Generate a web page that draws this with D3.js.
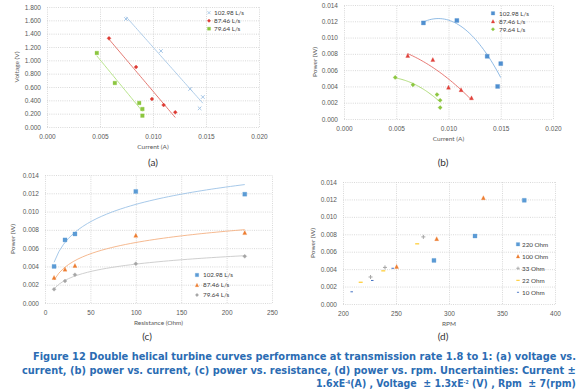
<!DOCTYPE html>
<html>
<head>
<meta charset="utf-8">
<script src="https://cdn.jsdelivr.net/npm/d3@7"></script>
<style>
  body { margin: 0; background: #fff; }
  svg { display: block; font-family: Lato, "Open Sans", sans-serif; }
  .grid line { stroke: #cfcfcf; stroke-width: 0.8; stroke-dasharray: 1,1.2; }
  .grid path { display: none; }
  .grid text { fill: #595959; font-size: 6.5px; }
  .title { fill: #595959; font-size: 6.5px; }
  .legend text { fill: #404040; font-size: 6.3px; }
  .sub { fill: #333; font-size: 10px; }
  .caption { fill: #2b6cb3; font-family: "Liberation Sans Narrow", "DejaVu Sans Condensed", sans-serif; font-weight: bold; font-size: 11.2px; }
</style>
</head>
<body>
<div id="chart"></div>
<script>
// flow rates (series of panels a, b, c)
var flowLabels = ["102.98 L/s", "87.46 L/s", "79.64 L/s"];

// (a) voltage vs current
var currentA = [
    [0.00745, 0.01075, 0.0135, 0.0147, 0.0144],
    [0.00585, 0.0084, 0.0099, 0.0110, 0.0121],
    [0.0047, 0.0064, 0.0087, 0.0090, 0.0090]
];
var voltageA = [
    [1.62, 1.14, 0.57, 0.45, 0.28],
    [1.33, 0.90, 0.42, 0.33, 0.22],
    [1.11, 0.66, 0.36, 0.27, 0.17]
];

// (b) power vs current
var currentB = [
    [0.0076, 0.0108, 0.0137, 0.0150, 0.0147],
    [0.0061, 0.0085, 0.0100, 0.0112, 0.0122],
    [0.0049, 0.0066, 0.0089, 0.0092, 0.0092]
];
var powerB = [
    [0.0118, 0.0121, 0.0077, 0.0068, 0.0040],
    [0.0078, 0.0073, 0.0039, 0.0036, 0.0026],
    [0.0051, 0.0042, 0.0030, 0.0023, 0.0014]
];

// (c) power vs resistance
var resistance = [10, 22, 33, 100, 220];
var powerC = [
    [0.0040, 0.0069, 0.00755, 0.0122, 0.0119],
    [0.0028, 0.0037, 0.0041, 0.0074, 0.0077],
    [0.0015, 0.0024, 0.0031, 0.0043, 0.0051]
];

// (d) power vs rpm, one series per load
var loadLabels = ["220 Ohm", "100 Ohm", "33 Ohm", "22 Ohm", "10 Ohm"];
var rpmD = [
    [371, 324.5, 285.8],
    [332.4, 288.4, 250.6],
    [275.8, 239.6, 226],
    [270, 238, 216.7],
    [246.9, 227.6, 208.2]
];
var powerD = [
    [0.0119, 0.0078, 0.0050],
    [0.0122, 0.0075, 0.0043],
    [0.0077, 0.0042, 0.0031],
    [0.0069, 0.0038, 0.0025],
    [0.0041, 0.0027, 0.0014]
];

var W = 580, H = 392;
var svg = d3.select("#chart").append("svg").attr("width", W).attr("height", H);
svg.append("rect").attr("width", W).attr("height", H).attr("fill", "#fff");

// marker paths centred on 0,0
function markerPath(shape, s) {
    var h = s / 2;
    switch (shape) {
        case "square": return "M" + -h + "," + -h + "h" + s + "v" + s + "h" + -s + "Z";
        case "diamond": return "M0," + -h + "L" + h + ",0L0," + h + "L" + -h + ",0Z";
        case "triangle": return "M0," + -h + "L" + h + "," + h + "L" + -h + "," + h + "Z";
        case "cross": return "M" + -h + "," + -h + "L" + h + "," + h + "M" + h + "," + -h + "L" + -h + "," + h;
        case "plus": return "M" + -h + ",0H" + h + "M0," + -h + "V" + h;
        case "dash": return "M" + -h + ",0H" + h;
        default: return "M0,0";
    }
}
function isStroked(shape) {
    return shape === "cross" || shape === "plus" || shape === "dash";
}

// least squares trend lines
function fitLinear(xs, ys) {
    var mx = d3.mean(xs), my = d3.mean(ys), sxy = 0, sxx = 0;
    xs.forEach(function (x, i) { sxy += (x - mx) * (ys[i] - my); sxx += (x - mx) * (x - mx); });
    var b = sxy / sxx, a = my - b * mx;
    return function (x) { return a + b * x; };
}
function fitLog(xs, ys) {
    var f = fitLinear(xs.map(Math.log), ys);
    return function (x) { return f(Math.log(x)); };
}
function fitPoly2(xs, ys) {
    var mx = d3.mean(xs);
    var u = xs.map(function (x) { return (x - mx) * 1000; });
    var S = [0, 0, 0, 0, 0], T = [0, 0, 0];
    u.forEach(function (v, i) {
        for (var k = 0; k < 5; k++) S[k] += Math.pow(v, k);
        for (var j = 0; j < 3; j++) T[j] += ys[i] * Math.pow(v, j);
    });
    var M = [[S[0], S[1], S[2], T[0]], [S[1], S[2], S[3], T[1]], [S[2], S[3], S[4], T[2]]];
    for (var c = 0; c < 3; c++) {
        for (var r = c + 1; r < 3; r++) {
            var f = M[r][c] / M[c][c];
            for (var k2 = c; k2 < 4; k2++) M[r][k2] -= f * M[c][k2];
        }
    }
    var coef = [0, 0, 0];
    for (var r2 = 2; r2 >= 0; r2--) {
        var s = M[r2][3];
        for (var k3 = r2 + 1; k3 < 3; k3++) s -= M[r2][k3] * coef[k3];
        coef[r2] = s / M[r2][r2];
    }
    return function (x) { var v = (x - mx) * 1000; return coef[0] + coef[1] * v + coef[2] * v * v; };
}

function drawPanel(cfg) {
    var g = svg.append("g");
    var x = d3.scaleLinear().domain(cfg.xDomain).range([cfg.left, cfg.right]);
    var y = d3.scaleLinear().domain(cfg.yDomain).range([cfg.bottom, cfg.top]);

    // ticks are the dotted mesh lines
    g.append("g").attr("class", "grid")
        .attr("transform", "translate(0," + cfg.bottom + ")")
        .call(d3.axisBottom(x).tickValues(cfg.xTicks).tickSize(-(cfg.bottom - cfg.top)).tickPadding(7).tickFormat(cfg.xFormat));
    g.append("g").attr("class", "grid")
        .attr("transform", "translate(" + cfg.left + ",0)")
        .call(d3.axisLeft(y).tickValues(cfg.yTicks).tickSize(-(cfg.right - cfg.left)).tickPadding(6).tickFormat(cfg.yFormat));

    g.append("text").attr("class", "title").attr("text-anchor", "middle")
        .attr("x", (cfg.left + cfg.right) / 2).attr("y", cfg.bottom + 22).text(cfg.xTitle);
    g.append("text").attr("class", "title").attr("text-anchor", "middle")
        .attr("transform", "translate(" + cfg.yTitleX + "," + (cfg.top + cfg.bottom) / 2 + ") rotate(-90)")
        .text(cfg.yTitle);

    cfg.series.forEach(function (s) {
        if (s.fit) {
            var f = s.fit(s.xs, s.ys);
            var ext = d3.extent(s.xs);
            var pts = d3.range(41).map(function (i) {
                var xv = ext[0] + (ext[1] - ext[0]) * i / 40;
                return [x(xv), y(f(xv))];
            });
            g.append("path").attr("d", d3.line()(pts))
                .attr("fill", "none").attr("stroke", s.lineColor).attr("stroke-width", 0.9);
        }
        g.append("g").selectAll("path").data(s.xs).enter().append("path")
            .attr("transform", function (d, i) { return "translate(" + x(d) + "," + y(s.ys[i]) + ")"; })
            .attr("d", markerPath(s.shape, s.size))
            .attr("fill", isStroked(s.shape) ? "none" : s.color)
            .attr("stroke", s.color)
            .attr("stroke-width", isStroked(s.shape) ? 1 : 0.3);
    });

    var lg = g.append("g").attr("class", "legend");
    cfg.series.forEach(function (s, i) {
        var ly = cfg.legend.y + i * cfg.legend.step;
        lg.append("path").attr("transform", "translate(" + cfg.legend.x + "," + ly + ")")
            .attr("d", markerPath(s.shape, s.size * 0.85))
            .attr("fill", isStroked(s.shape) ? "none" : s.color)
            .attr("stroke", s.color)
            .attr("stroke-width", isStroked(s.shape) ? 0.9 : 0.3);
        lg.append("text").attr("x", cfg.legend.x + cfg.legend.gap).attr("y", ly).attr("dy", "0.35em").text(s.label);
    });

    svg.append("text").attr("class", "sub").attr("text-anchor", "middle")
        .attr("x", cfg.subX).attr("y", cfg.subY).text(cfg.sub);
}

var f3 = d3.format(".3f");

drawPanel({
    left: 47, right: 259, top: 7, bottom: 127,
    xDomain: [0, 0.02], yDomain: [0, 1.8],
    xTicks: d3.range(0, 0.0201, 0.005), yTicks: d3.range(0, 1.801, 0.2),
    xFormat: f3, yFormat: f3,
    xTitle: "Current (A)", yTitle: "Voltage (V)", yTitleX: 19,
    sub: "(a)", subX: 153, subY: 166,
    legend: { x: 209, y: 12.7, step: 8, gap: 5 },
    series: [
        { label: flowLabels[0], xs: currentA[0], ys: voltageA[0], shape: "cross", size: 3.6, color: "#a7c7e7", lineColor: "#a7c7e7", fit: fitLinear },
        { label: flowLabels[1], xs: currentA[1], ys: voltageA[1], shape: "diamond", size: 4, color: "#de3a32", lineColor: "#e06a62", fit: fitLinear },
        { label: flowLabels[2], xs: currentA[2], ys: voltageA[2], shape: "square", size: 3.6, color: "#8cc63f", lineColor: "#aee07a", fit: fitLinear }
    ]
});

drawPanel({
    left: 344, right: 553, top: 5, bottom: 119,
    xDomain: [0, 0.02], yDomain: [0, 0.014],
    xTicks: d3.range(0, 0.0201, 0.005), yTicks: d3.range(0, 0.01401, 0.002),
    xFormat: f3, yFormat: f3,
    xTitle: "Current (A)", yTitle: "Power (W)", yTitleX: 317,
    sub: "(b)", subX: 443, subY: 166,
    legend: { x: 493, y: 13.3, step: 8, gap: 6 },
    series: [
        { label: flowLabels[0], xs: currentB[0], ys: powerB[0], shape: "square", size: 4, color: "#4f8fd0", lineColor: "#86b4e2", fit: fitPoly2 },
        { label: flowLabels[1], xs: currentB[1], ys: powerB[1], shape: "triangle", size: 4, color: "#e0403a", lineColor: "#e46a64", fit: fitPoly2 },
        { label: flowLabels[2], xs: currentB[2], ys: powerB[2], shape: "diamond", size: 4.2, color: "#8cc63f", lineColor: "#a8d86e", fit: fitPoly2 }
    ]
});

drawPanel({
    left: 45, right: 272, top: 175, bottom: 303,
    xDomain: [0, 250], yDomain: [0, 0.014],
    xTicks: d3.range(0, 251, 50), yTicks: d3.range(0, 0.01401, 0.002),
    xFormat: d3.format("d"), yFormat: f3,
    xTitle: "Resistance (Ohm)", yTitle: "Power (W)", yTitleX: 15,
    sub: "(c)", subX: 147, subY: 340,
    legend: { x: 197, y: 275, step: 10, gap: 6 },
    series: [
        { label: flowLabels[0], xs: resistance, ys: powerC[0], shape: "square", size: 4, color: "#5b9bd5", lineColor: "#9dc3e6", fit: fitLog },
        { label: flowLabels[1], xs: resistance, ys: powerC[1], shape: "triangle", size: 4, color: "#ed7d31", lineColor: "#f4b183", fit: fitLog },
        { label: flowLabels[2], xs: resistance, ys: powerC[2], shape: "diamond", size: 4, color: "#a5a5a5", lineColor: "#c9c9c9", fit: fitLog }
    ]
});

var loadStyles = [
    { shape: "square", size: 4, color: "#5b9bd5" },
    { shape: "triangle", size: 4, color: "#ed7d31" },
    { shape: "plus", size: 4, color: "#a5a5a5" },
    { shape: "dash", size: 4, color: "#ffc000" },
    { shape: "dash", size: 2.5, color: "#4472c4" }
];
drawPanel({
    left: 343, right: 555, top: 182, bottom: 304,
    xDomain: [200, 400], yDomain: [0, 0.014],
    xTicks: d3.range(200, 401, 50), yTicks: d3.range(0, 0.01401, 0.002),
    xFormat: d3.format("d"), yFormat: f3,
    xTitle: "RPM", yTitle: "Power (W)", yTitleX: 315,
    sub: "(d)", subX: 443, subY: 340,
    legend: { x: 518, y: 244.3, step: 12, gap: 4 },
    series: loadLabels.map(function (lab, i) {
        return { label: lab, xs: rpmD[i], ys: powerD[i], shape: loadStyles[i].shape, size: loadStyles[i].size, color: loadStyles[i].color };
    })
});

// caption: each line squeezed horizontally to the width it has in the figure
var cap = svg.append("g").attr("class", "caption");
function captionLine(x0, y0, width, build) {
    var t = cap.append("text").attr("x", 0).attr("y", 0);
    build(t);
    var w = t.node().getComputedTextLength();
    t.attr("transform", "translate(" + x0 + "," + y0 + ") scale(" + (width / w) + ",1)");
}
captionLine(33, 360, 543, function (t) {
    t.text("Figure 12 Double helical turbine curves performance at transmission rate 1.8 to 1: (a) voltage vs.");
});
captionLine(22, 373.5, 554, function (t) {
    t.text("current, (b) power vs. current, (c) power vs. resistance, (d) power vs. rpm. Uncertainties: Current \u00b1");
});
captionLine(316, 387, 260, function (t) {
    t.append("tspan").text("1.6xE");
    t.append("tspan").attr("dy", -3.5).style("font-size", "5.5px").text("-4");
    t.append("tspan").attr("dy", 3.5).text("(A) , Voltage \u00a0\u00b1 1.3xE");
    t.append("tspan").attr("dy", -3.5).style("font-size", "5.5px").text("-2");
    t.append("tspan").attr("dy", 3.5).text(" (V) , Rpm \u00a0\u00b1 7(rpm)");
});
</script>
</body>
</html>
